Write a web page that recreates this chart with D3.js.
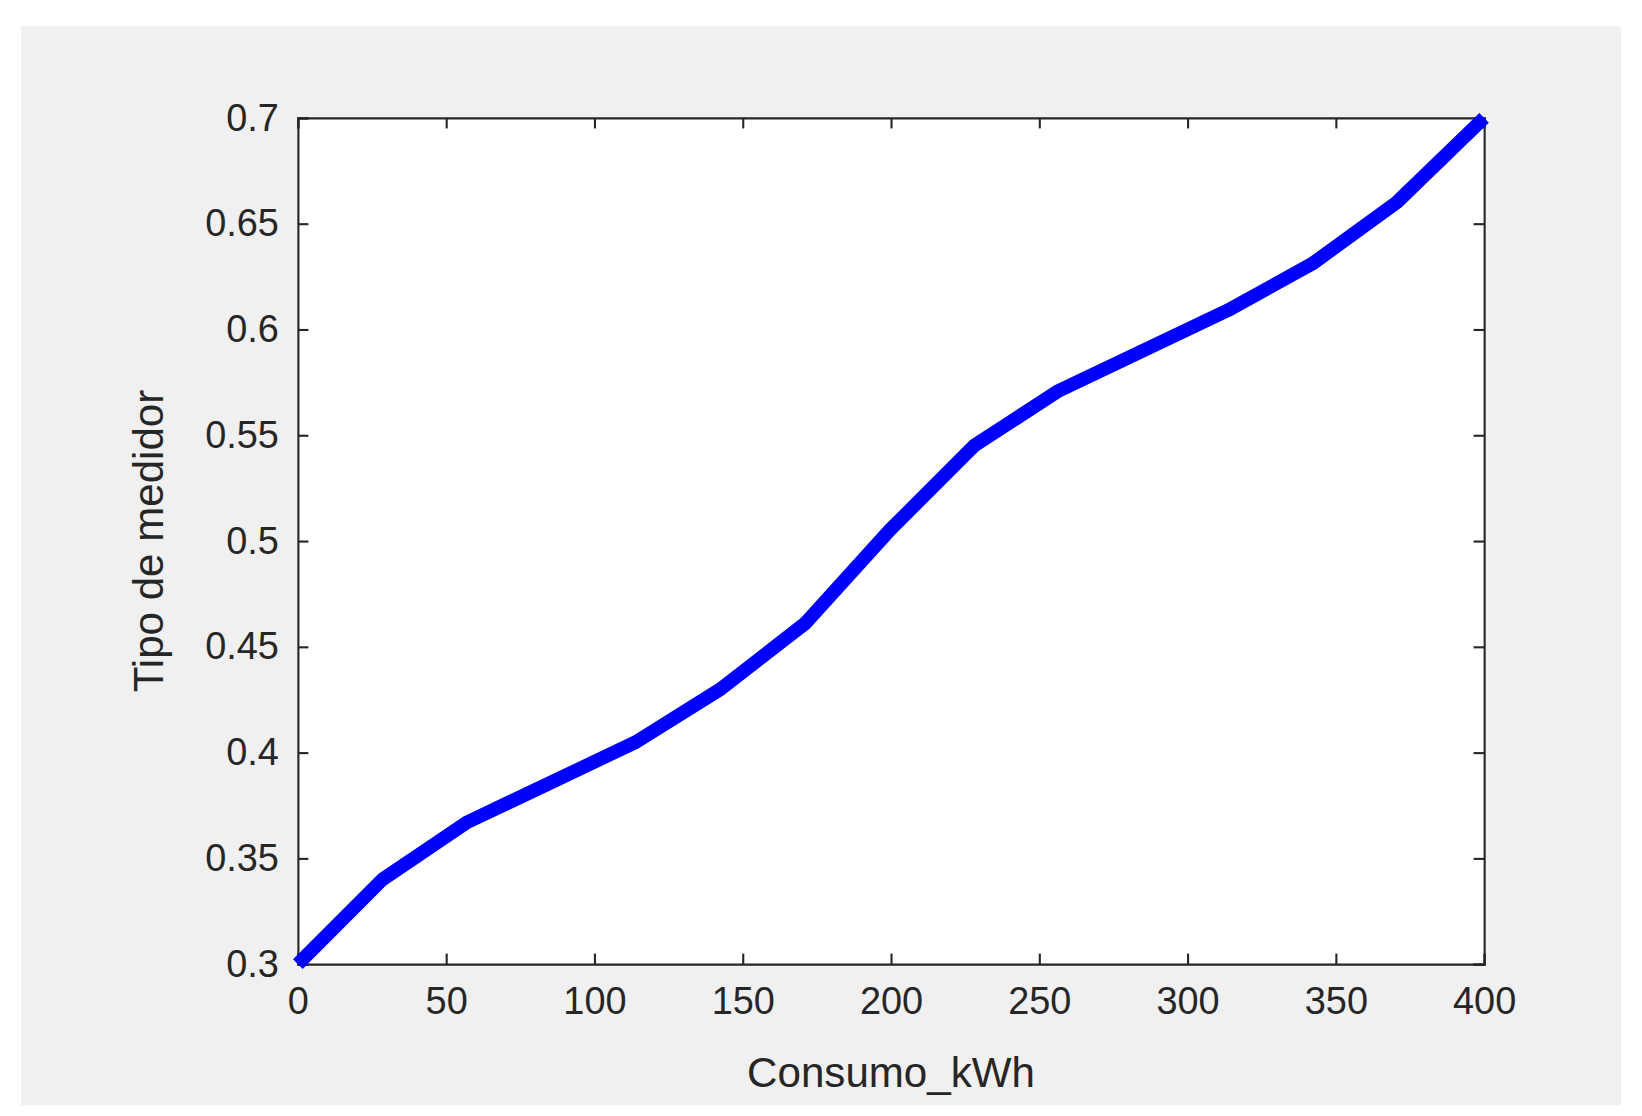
<!DOCTYPE html><html><head><meta charset="utf-8">
<script src="https://cdn.jsdelivr.net/npm/d3@7"></script>
<style>body{margin:0;background:#fff}svg{display:block}</style></head><body>
<script>
const xVals=[0,28.5,57,85.5,114,142.5,171,199.5,228,256.5,285,313.5,342,370.5,400];
const yVals=[0.30,0.34,0.367,0.386,0.405,0.43,0.461,0.505,0.545,0.571,0.59,0.609,0.631,0.66,0.70];
const xTicks=[0,50,100,150,200,250,300,350,400];
const yTicks=[0.3,0.35,0.4,0.45,0.5,0.55,0.6,0.65,0.7];
const W=1642,H=1116,k=1642/1560;
const svg0=d3.select("body").append("svg").attr("width",W).attr("height",H);
const svg=svg0.append("g").attr("transform",`scale(${k})`);
svg.append("rect").attr("x",20).attr("y",25).attr("width",1520).attr("height",1025).attr("fill","#f0f0f0");
const L=283,R=1410,T=112,B=916;
const x=d3.scaleLinear().domain([0,400]).range([L,R]);
const y=d3.scaleLinear().domain([0.3,0.7]).range([B,T]);
svg.append("rect").attr("x",L).attr("y",T).attr("width",R-L).attr("height",B-T).attr("fill","#fff");
const font="Liberation Sans, Arial, sans-serif";
svg.append("g").attr("transform",`translate(0,${B})`).call(d3.axisBottom(x).tickValues(xTicks).tickSize(-10).tickPadding(22).tickFormat(d3.format("d")));
svg.append("g").attr("transform",`translate(${L},0)`).call(d3.axisLeft(y).tickValues(yTicks).tickSize(-10).tickPadding(18).tickFormat(d=>String(+d.toFixed(2))));
svg.append("g").attr("transform",`translate(0,${T})`).call(d3.axisTop(x).tickValues(xTicks).tickSize(-10).tickFormat(""));
svg.append("g").attr("transform",`translate(${R},0)`).call(d3.axisRight(y).tickValues(yTicks).tickSize(-10).tickFormat(""));
svg.selectAll(".domain,.tick line").attr("stroke","#262626").attr("stroke-width",2);
svg.selectAll(".tick text").attr("font-family",font).attr("font-size",36).attr("fill","#262626");
svg.append("path").datum(xVals.map((v,i)=>[v,yVals[i]]))
 .attr("d",d3.line().x(d=>x(d[0])).y(d=>y(d[1])))
 .attr("fill","none").attr("stroke","#0000ff").attr("stroke-width",13).attr("stroke-linejoin","round");
svg.append("text").attr("x",(L+R)/2).attr("y",1033).attr("text-anchor","middle").attr("font-family",font).attr("font-size",40).attr("fill","#262626").text("Consumo_kWh");
svg.append("text").attr("transform",`translate(155,${(T+B)/2}) rotate(-90)`).attr("text-anchor","middle").attr("font-family",font).attr("font-size",40).attr("fill","#262626").text("Tipo de medidor");
</script></body></html>
